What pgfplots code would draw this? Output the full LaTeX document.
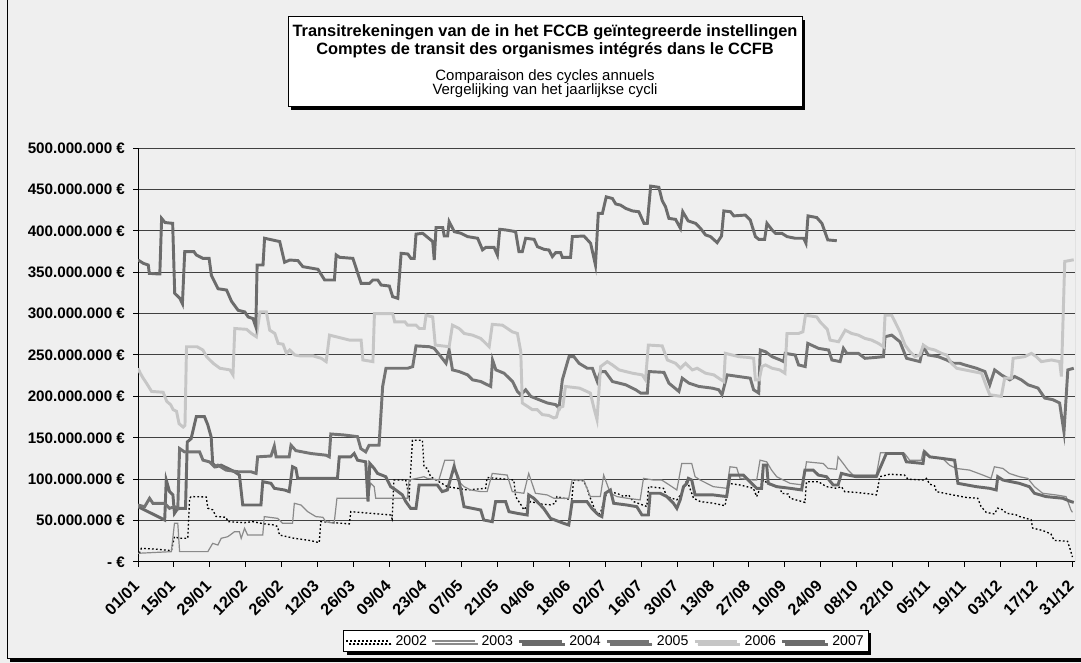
\documentclass[border=0pt]{standalone}
\usepackage{pgfplots}
\pgfplotsset{compat=1.18}
\usepackage{fontspec}
\setmainfont{Liberation Sans}
\usetikzlibrary{shadows}
\definecolor{bg}{HTML}{EFEFEF}
\definecolor{c2003}{HTML}{8A8A8A}
\definecolor{c2004}{HTML}{6A6A6A}
\definecolor{c2005}{HTML}{747474}
\definecolor{c2006}{HTML}{C6C6C6}
\definecolor{c2007}{HTML}{6C6C6C}
\begin{document}
\begin{tikzpicture}[x=0.75pt,y=0.75pt]
\fill[bg] (0,0) rectangle (1081,663);
\useasboundingbox (0,0) rectangle (1081,663);
\draw[black, line width=0.75pt] (7,663) -- (7,4.5) -- (1081,4.5);
\fill[black] (10,1) rectangle (1081,4.5);
\begin{axis}[
  at={(103.5pt,75.75pt)}, anchor=south west,
  width=702.75pt, height=310.5pt, scale only axis,
  xmin=0, xmax=365, ymin=0, ymax=500,
  axis x line*=bottom, axis y line*=left,
  axis line style={black, line width=0.75pt},
  xtick={0,14,...,364},
  xticklabels={01/01,15/01,29/01,12/02,26/02,12/03,26/03,09/04,23/04,07/05,21/05,04/06,18/06,02/07,16/07,30/07,13/08,27/08,10/09,24/09,08/10,22/10,05/11,19/11,03/12,17/12,31/12},
  ytick={0,50,...,500},
  yticklabels={{- €},{50.000.000 €},{100.000.000 €},{150.000.000 €},{200.000.000 €},{250.000.000 €},{300.000.000 €},{350.000.000 €},{400.000.000 €},{450.000.000 €},{500.000.000 €}},
  tick align=outside, major tick length=3.75pt,
  tick style={black, line width=0.75pt},
  ymajorgrids, major grid style={black!75, line width=0.75pt},
  xticklabel style={xshift=-4.5pt, yshift=-7.5pt, rotate=45, anchor=north east, font=\fontsize{12.2}{14}\selectfont\bfseries, inner sep=1pt},
  yticklabel style={font=\fontsize{11.4}{13}\selectfont\bfseries, xshift=-2.5pt},
  legend columns=6,
  legend style={at={(0.4995,-0.191)}, anchor=center, draw=black, fill=white,
    font=\fontsize{10.6}{12}\selectfont, inner sep=1.5pt,
    drop shadow={shadow xshift=2.25pt, shadow yshift=-2.25pt, opacity=1, fill=black},
    /tikz/every odd column/.append style={column sep=2.5pt},
    /tikz/every even column/.append style={column sep=1.5pt}},
  legend image code/.code={\draw[#1] (0pt,0pt) -- (32pt,0pt);},
]
\addplot[black, line width=1pt, dash pattern=on 1.3pt off 1.7pt] coordinates {
(0,6) (1.3,16.5) (7.8,15.3) (13,13.7) (14.2,30.6) (16.2,28.6) (19.4,28.6) (20.1,77) (20.7,79) (26.6,78.5) (27.2,65) (29.1,63) (30.4,55) (34.3,54) (35,48.7) (41.5,47.5) (44.7,48.7) (49.2,46) (53.1,44.7) (54.4,42.7) (55.1,32.6) (60.9,28.6) (67.4,25.8) (70.6,23.3) (71.2,48.7) (76.4,47.5) (82.3,46) (82.9,60.8) (90.7,58.8) (98.4,56.8) (99,52) (99.7,99) (104.3,99) (105.6,79) (106.9,147) (110.8,147) (111.4,115) (112.7,113) (114,103) (117.2,97) (120.5,91) (124.4,89) (128.3,87) (135.4,89) (136,102) (139.9,101) (143.8,100) (146.4,99) (147.1,79) (149.6,67) (150.3,63) (152.9,73) (156.8,70) (160.7,69) (162.6,71) (163.2,79) (167.1,76) (169,76) (169.7,99) (173.6,98) (174.9,89) (176.2,77) (178.8,57) (180.1,59) (182.7,85) (186.6,83) (189.2,79) (191.1,81) (193,73) (198.2,67) (198.9,91) (204.7,89) (206,79) (209.9,75) (211.8,83) (213.8,99) (216.4,77) (219,73) (224.1,71) (228.7,68) (230,95) (234.5,93) (239.7,89) (241,79) (243.6,99) (246.2,93) (250.1,91) (250.7,83) (253.3,82) (254,77) (259.8,72) (260.4,97) (265,97) (268.2,91) (272.1,89) (274,91) (275.3,85) (279.9,84) (285.7,82) (287.6,81) (288.3,91) (288.9,103) (292.8,106) (298.6,105) (299.9,100) (305.8,99) (307.1,101) (308.4,94) (310.3,92) (311,85) (317.4,81) (322.6,78) (327.1,77) (328.4,67) (330.4,60) (333.6,58) (334.9,65) (336.9,63) (338.2,59) (342,57) (343.3,55) (347.9,51) (348.5,41) (352.4,38) (355.6,34) (356.9,26) (362.1,25) (363.4,12.5) (364,6)
};
\addlegendentry{2002}
\addplot[c2003, line width=0.9pt] coordinates {
(0,10.5) (13,12.5) (14.2,46.7) (15.5,46.7) (16.2,12.5) (27.2,12.5) (29.1,22.5) (31.1,20.5) (32.4,28.6) (35,30.6) (37.6,36.6) (39.5,36.6) (40.2,28.6) (41.5,40.7) (42.7,32.6) (48.6,32.6) (49.2,54.8) (54.4,52.7) (56.3,46.7) (60.2,46.7) (60.9,70.9) (63.5,68.8) (66.1,60.8) (69.3,54.8) (72,54) (73.2,48.7) (76.4,46.7) (77.5,77) (89.4,77) (90.7,95) (92,91) (92.6,77) (104.9,77) (105.6,99) (111.4,103) (112.7,101) (117.2,99) (119.5,123) (123.1,123) (124.4,99) (127,91) (129.6,87) (133.5,85) (136,85) (138,107) (143.8,105) (145.8,85) (150.3,83) (152.2,107) (154.8,83) (159.4,81) (162,77) (167.8,77) (169.1,99) (173.6,99) (176.2,79) (180.1,79) (181.4,105) (184,83) (186.6,79) (190.5,77) (195.6,75) (196.9,101) (200.8,99) (204,99) (206,95) (209.9,87) (211.8,119) (215.7,119) (217,103) (219,99) (224.1,91) (229.3,89) (230.6,115) (233.2,114) (234.5,101) (239.7,99) (241,99) (242.3,123) (244.9,121) (246.8,111) (248.8,103) (251.4,99) (254,95) (259.1,93) (260.4,121) (266.9,119) (268.8,113) (272.1,112) (272.7,127) (274.7,119) (276.6,111) (278.6,105) (287.6,105) (289.2,132) (292.2,132) (298.6,131) (300.6,123) (305.1,123) (305.8,133) (308.4,127) (313.5,125) (316.1,117) (318.7,113) (323.9,111) (329.1,105) (332.3,101) (333.6,115) (336.9,113) (339.4,107) (343.3,103) (346.6,101) (349.2,91) (352.4,83) (357.6,81) (361.5,79) (363.4,63) (364,60)
};
\addlegendentry{2003}
\addplot[c2004, line width=2.2pt] coordinates {
(0,66.8) (3.9,60.8) (7.8,54.8) (10.4,50.7) (11,99) (12.3,85) (13.6,81) (14.2,58.8) (15.5,64.8) (18.5,64.8) (19.2,145) (20.7,149) (22.7,175.5) (25.9,175.5) (27.2,165.5) (28.5,151) (29.1,119) (30.4,115) (32.4,117) (35,113) (37.6,109) (39.5,105) (40.8,68.8) (47.9,68.8) (48.6,97) (51.8,95) (53.1,89) (57,87) (58.9,85) (60.2,115) (61.5,113) (62.2,101) (77.7,101) (78.4,127) (82.9,127) (84.2,131) (85.5,123) (88.7,121) (89.6,73) (90.3,119) (92,113) (93.3,107) (96.5,103) (98.4,91) (100.4,87) (103,81) (104.3,73) (106.2,64.8) (108.3,64.8) (109.5,93) (116.6,93) (118.5,85) (120.5,87) (123.1,115) (125,99) (127,66.8) (133.5,62.8) (134.7,50.7) (138,48.7) (139.3,72.9) (143.2,72.9) (144.5,60.8) (147.7,58.8) (151.6,56.8) (152.2,81) (154.2,76.9) (158,64.8) (160.7,52.7) (165.8,46.7) (167.8,44.7) (169.1,72.9) (174.9,72.9) (176.8,64.8) (179.4,56.8) (180.7,54.8) (182,83) (184,87) (185.3,70.9) (190.5,68.8) (194.3,66.8) (196.3,56.8) (198.8,56.8) (199.5,83) (203.4,83) (206,79) (208.6,70.9) (209.9,64.8) (211.2,75) (212.5,91) (213.8,95) (214.4,101) (215.7,99) (217,81) (224.1,81) (229.3,79) (230.6,105) (235.8,105) (237.7,99) (241,89) (242.9,89) (243.6,117) (244.9,117) (245.5,95) (248.8,91) (254,89) (258.5,87) (259.8,111) (263,111) (265,105) (268.2,103) (270.8,93) (272.7,93) (274,107) (276.6,105) (279.9,103) (287.6,103) (291.5,131) (298,131) (299.3,121) (305.8,119) (306.4,133) (308.4,127) (313.5,125) (318.1,123) (319.4,95) (326.5,91) (331.7,89) (334.3,87) (334.9,103) (336.9,99) (343.3,95) (347.2,91) (349.2,83) (353.7,79) (360.2,77) (363.4,73) (364.5,72)
};
\addlegendentry{2004}
\addplot[c2005, line width=2.2pt] coordinates {
(0,68.8) (2.6,66.8) (4.5,76.9) (5.8,70.9) (10.4,70.9) (12.3,64.8) (14.2,66.8) (15.5,64.8) (16.2,137) (18.1,133) (24,133) (25.3,123) (27.8,121) (29.8,115) (31.1,117) (34.3,111) (38.9,109) (44,109) (46,107) (46.6,127) (51.8,128) (53.1,140) (53.8,127) (58.9,127) (59.6,141) (61.5,134.5) (67.4,131) (73.2,129) (74.5,127) (75.1,154.6) (80.3,153.4) (85.5,151.4) (86.8,137) (88.7,133) (90,141) (93.9,141) (95.3,212) (96.6,234) (101.2,234) (105.1,234) (107,236) (108.3,261) (113.5,260) (115.4,258) (118,248) (120,240) (121.2,256) (122.5,232) (125.1,230) (128.4,226) (130.3,220) (133.5,218) (136.1,214) (137.4,212) (138.1,244) (139.4,232) (142.6,228) (145.9,218) (147.8,206) (149.1,202) (151,208) (153,200) (156.2,196) (159.5,192) (162.7,190) (164,186) (165.3,220) (167.9,248) (169.8,248) (171.8,240) (175,234) (177,234) (178.9,218) (180.2,230) (182,230) (184.8,218) (190,214) (193.9,208) (195.8,204) (198.4,204) (199,230) (204.9,229) (206.8,216) (210.7,206) (212,222) (214.6,216) (218.5,212) (223.6,210) (226.2,208) (227.5,202) (229.5,226) (234,224) (238.5,222) (239.8,208) (241.8,204) (242.4,256) (244.4,254) (247,248) (250.2,244) (251.5,242) (252.1,252) (256,250) (257.3,238) (259.9,236) (260.9,264) (265.1,258) (269,256) (270.3,244) (273.5,242) (274.8,258) (276.1,252) (280.6,252) (283.2,246) (287.1,247) (290.4,248) (291,272) (293.6,274) (296.8,266) (299.4,246) (302,244) (304.6,242) (305.9,260) (307.8,250) (311.7,248) (315,244) (317.6,240) (320.1,240) (322.1,238) (326.6,234) (329.9,230) (331.8,214) (333.7,232) (336.3,226) (339.6,220) (341.5,224) (344.1,220) (346.7,214) (350.6,210) (353.2,198) (356.4,196) (359,192) (360.7,157) (362.2,232) (364.5,234)
};
\addlegendentry{2005}
\addplot[c2006, line width=2.2pt] coordinates {
(0,234) (0.9,228) (2,222) (3.3,216) (5.3,206) (9.8,205) (11.2,194) (12.7,190) (13.7,184) (15,182) (16,167) (17.6,163) (18.3,165) (18.9,260) (23,260) (25.3,256) (26.7,248) (29.3,240) (31.9,234) (35.8,232) (37,226) (37.7,282) (42.3,281) (44.2,276) (46.1,272) (47.5,302) (50,302) (51.3,280) (53.3,276) (54.6,264) (56.5,263) (57.8,252) (59.1,256) (61.1,250) (63,249) (68.1,249) (71.4,246) (73.3,242) (74.6,274) (77.2,272) (82.4,268) (86.9,268) (87.6,244) (91.5,242) (92.1,300) (99.2,300) (100,290) (104,290) (105,286) (108.3,286) (109.6,282) (111.5,282) (112.2,298) (114.8,296) (115.8,262) (121.2,260) (122.5,286) (125.1,282) (127.1,276) (130.3,274) (133.5,270) (136.8,260) (138,287) (142,286) (145.8,278) (147.8,276) (149.1,254) (149.7,192) (151.7,188) (153.6,184) (155.5,184) (157.5,178) (160,177) (162,174) (163,175) (164,186) (165.5,188) (166.5,212) (172,210) (176.2,204) (177.6,186) (178.8,172) (180.2,236) (182.8,242) (184.8,238) (187.4,232) (192.6,228) (196.4,226) (197.7,220) (198.8,262) (204.2,261) (206.2,244) (209.4,240) (211.3,234) (213.3,240) (215.9,232) (217.8,234) (221.1,228) (224.3,226) (226.2,222) (228.2,218) (228.8,252) (231.4,250) (234,248) (237.9,247) (239.8,246) (240.5,220) (242,220) (243,236) (244.4,238) (247,234) (250,232) (252,228) (252.8,276) (257.3,276) (259,278) (260,298) (264.4,296) (265.7,290) (268.5,281) (269.6,268) (272.9,266) (275.5,280) (278,276) (280.6,274) (283.2,270) (285.8,268) (288.4,264) (290.4,260) (291,298) (293.6,298) (294.9,290) (296.8,278) (298.8,262) (300.7,254) (302.7,248) (304.6,250) (305.9,262) (307.8,258) (310.4,256) (313,252) (315,250) (316.9,240) (318.9,234) (322.1,232) (325.3,230) (328.6,228) (330.5,212) (331.8,202) (336.3,200) (337.6,222) (340.2,222) (340.9,246) (345.4,248) (348,252) (349.9,248) (351.9,242) (355.8,244) (359,242) (359.7,224) (361,363) (364.5,365)
};
\addlegendentry{2006}
\addplot[c2007, line width=2.2pt] coordinates {
(0,364.7) (2.1,360.7) (4,358.7) (4.4,348.6) (7.3,348) (8.5,348) (9.2,415) (10.5,410) (13.5,409) (14.3,324.5) (16.3,318.4) (17.3,312) (18.2,374.8) (21.8,374.8) (22.7,370.8) (25.3,366.7) (27.7,366.7) (28.6,346) (31.2,330) (34.5,328.5) (36.4,315) (39,304) (41.6,302) (42.9,296) (44.8,294) (45.9,284) (46.4,358.7) (48.7,358.7) (49.3,391) (55.2,387) (57.1,362) (59.1,364.7) (62.3,364) (64.2,356.7) (70.1,353.5) (72.7,340.6) (76.5,340.6) (77.2,370.8) (78.5,368) (83.7,366.7) (86.9,336.6) (90.2,336.6) (91.5,340.6) (93.4,340.6) (94.7,334.5) (97.9,333.3) (99.2,320.5) (101.2,318.4) (102.5,372.8) (105.1,372) (106.3,366.7) (107.6,366.7) (108.3,396) (110.9,397) (114.8,387) (115.4,364.7) (116.1,404) (118.7,404) (119.3,393.7) (120.6,393.7) (121.2,411) (123.2,399) (125.8,397) (128.4,393) (130.3,392) (132.3,391) (134.2,377) (135.5,380) (138.7,380) (140,370.8) (140.9,401.8) (143.3,401) (147.1,399) (148.4,374.8) (149.7,374.8) (151,391) (154.3,389.7) (155.6,380.8) (158.2,377.6) (160.1,376.8) (161.4,368.8) (162.7,373.6) (164.6,373.6) (165.3,368) (168.5,368) (169.2,393) (173.7,393.7) (176.3,385) (178.2,358.7) (179.3,421) (180.9,421) (182.4,441) (184.8,439) (186.1,432.4) (188,431) (190,427) (192.6,424) (195.1,423) (197.1,409) (198.4,409) (199.7,454) (202.9,452.5) (204.2,436.4) (205.5,429) (206.8,415) (209.4,413.8) (211.3,403) (212.2,423) (214.3,412) (217.2,409) (219.1,403) (221.1,395) (223,393) (225.6,385.7) (227.3,393.7) (228.2,424) (230.8,423) (232.1,418) (236.6,419) (238.5,413) (240.5,393) (241.8,389.7) (244.1,389.7) (245,409) (247,401) (248.3,397) (250.8,397) (252.8,393) (256,391) (259.3,391) (260.2,385) (261,418) (264.4,416) (266.4,409) (268.7,389) (272.2,388)
};
\addlegendentry{2007}
\draw[black!50, line width=0.75pt] (rel axis cs:1,0) -- (rel axis cs:1,1);
\end{axis}
\node[draw=black, fill=white, line width=0.75pt, minimum width=385.5pt, minimum height=67.5pt, inner sep=0pt,
  drop shadow={shadow xshift=2.25pt, shadow yshift=-2.25pt, opacity=1, fill=black}] at (545,601) {};
\node[anchor=base, inner sep=0pt, font=\fontsize{12.3}{14}\selectfont\bfseries] at (545,626.3) {Transitrekeningen van de in het FCCB geïntegreerde instellingen};
\node[anchor=base, inner sep=0pt, font=\fontsize{12.3}{14}\selectfont\bfseries] at (545,608) {Comptes de transit des organismes intégrés dans le CCFB};
\node[anchor=base, inner sep=0pt, font=\fontsize{11.2}{13}\selectfont] at (545,582.3) {Comparaison des cycles annuels};
\node[anchor=base, inner sep=0pt, font=\fontsize{11.2}{13}\selectfont] at (545,568) {Vergelijking van het jaarlijkse cycli};
\end{tikzpicture}
\end{document}
